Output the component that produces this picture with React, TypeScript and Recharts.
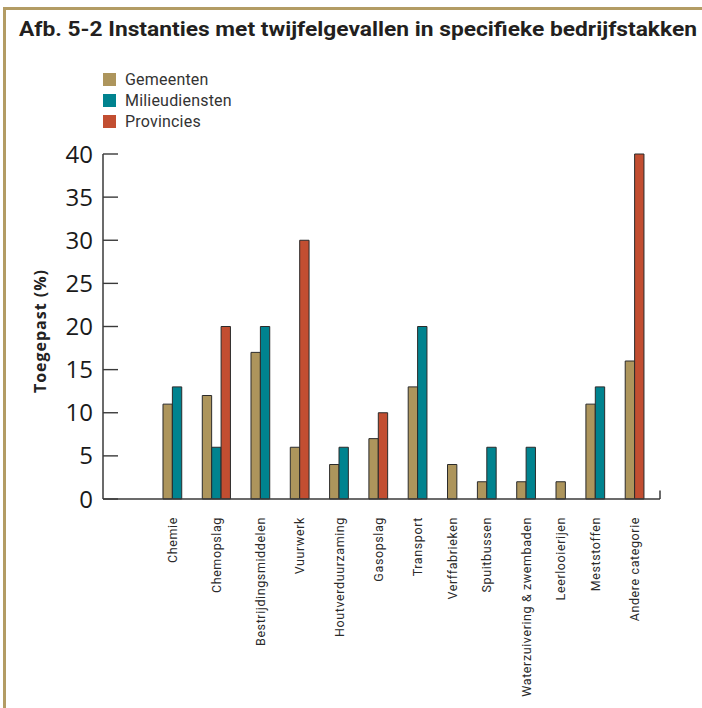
import React from 'react';
import { BarChart, Bar, XAxis, YAxis, ReferenceLine } from 'recharts';

// ---- data ----
const categories = [
  'Chemie',
  'Chemopslag',
  'Bestrijdingsmiddelen',
  'Vuurwerk',
  'Houtverduurzaming',
  'Gasopslag',
  'Transport',
  'Verffabrieken',
  'Spuitbussen',
  'Waterzuivering & zwembaden',
  'Leerlooierijen',
  'Meststoffen',
  'Andere categorie',
];
const gemeenten: (number | null)[] = [11, 12, 17, 6, 4, 7, 13, 4, 2, 2, 2, 11, 16];
const milieudiensten: (number | null)[] = [13, 6, 20, null, 6, null, 20, null, 6, 6, null, 13, null];
const provincies: (number | null)[] = [null, 20, null, 30, null, 10, null, null, null, null, null, null, 40];
const yTicks = [0, 5, 10, 15, 20, 25, 30, 35, 40];

const seriesNames = ['Gemeenten', 'Milieudiensten', 'Provincies'];
const seriesKeys = ['gemeenten', 'milieudiensten', 'provincies'];
const seriesColors = ['#ad955c', '#00838f', '#c24e31'];
const seriesValues = [gemeenten, milieudiensten, provincies];

// ---- layout constants ----
const W = 702;
const H = 708;
const MARGIN = { top: 154, right: 42, bottom: 9, left: 43 };
const YAXIS_W = 60;
const XAXIS_H = 200;
const AXIS_X = MARGIN.left + YAXIS_W;
const PLOT_W = W - MARGIN.left - MARGIN.right - YAXIS_W;
const PLOT_BOTTOM = H - MARGIN.bottom - XAXIS_H;
const GAP = 2.18; // gap between groups, in bar widths
const PAD_LEFT = 6.38;
const PAD_RIGHT = 1.7;

// build one row per drawn bar; missing values are skipped so bars sit side by side
type Row = { pos: number; category: string; [k: string]: number | string };
const rows: Row[] = [];
const groupCenters: number[] = [];
let cursor = 0;
categories.forEach((cat, i) => {
  const start = cursor;
  seriesValues.forEach((vals, s) => {
    const v = vals[i];
    if (v == null) return;
    rows.push({ pos: cursor + 0.5, category: cat, [seriesKeys[s]]: v });
    cursor += 1;
  });
  groupCenters.push((start + cursor) / 2);
  if (i < categories.length - 1) cursor += GAP;
});
const X_MIN = -PAD_LEFT;
const X_MAX = cursor + PAD_RIGHT;
const BAR_PX = PLOT_W / (X_MAX - X_MIN) - 0.05;

const AXIS_COLOR = '#3a3a3a';

const YTick = (props: any) => {
  const { y, payload } = props;
  return (
    <g>
      <line x1={AXIS_X} x2={AXIS_X + 15} y1={y} y2={y} stroke={AXIS_COLOR} strokeWidth={1.4} />
      <text
        x={AXIS_X - 10}
        y={y}
        dy="0.355em"
        textAnchor="end"
        fontSize={24}
        fontFamily="'Open Sans', sans-serif"
        fill="#1a1a1a"
      >
        {payload.value}
      </text>
    </g>
  );
};

const XTick = (props: any) => {
  const { x, index } = props;
  const ty = PLOT_BOTTOM + 18;
  return (
    <text
      x={x}
      y={ty}
      dy="0.36em"
      transform={`rotate(-90, ${x}, ${ty})`}
      textAnchor="end"
      fontSize={12.5}
      letterSpacing={0.6}
      fontFamily="Roboto, sans-serif"
      fill="#2a2a2a"
    >
      {categories[index]}
    </text>
  );
};

const YLabel = (props: any) => {
  const vb = props.viewBox || {};
  const cy = (vb.y ?? MARGIN.top) + (vb.height ?? 345) / 2 + 5;
  const x = 46;
  return (
    <text
      x={x}
      y={cy}
      transform={`rotate(-90, ${x}, ${cy})`}
      textAnchor="middle"
      fontSize={16}
      fontWeight={700}
      fontFamily="'Open Sans', sans-serif"
      fill="#222"
      textLength={123}
      lengthAdjust="spacing"
    >
      Toegepast (%)
    </text>
  );
};

export default function App() {
  return (
    <div
      style={{
        position: 'absolute',
        left: 0,
        top: 0,
        width: W,
        height: H,
        overflow: 'hidden',
        background: '#fff',
      }}
    >
      <div
        style={{
          position: 'absolute',
          left: 3,
          top: 7,
          width: W + 20,
          height: H + 20,
          borderTop: '3px solid #b39c64',
          borderLeft: '3px solid #b39c64',
        }}
      />
      <svg style={{ position: 'absolute', left: 0, top: 0 }} width={W} height={50}>
        <text
          x={19}
          y={36}
          fontSize={21}
          fontWeight={700}
          fontFamily="Roboto, sans-serif"
          fill="#231f20"
          textLength={678}
          lengthAdjust="spacingAndGlyphs"
        >
          Afb. 5-2 Instanties met twijfelgevallen in specifieke bedrijfstakken
        </text>
      </svg>
      <div style={{ position: 'absolute', left: 103, top: 73 }}>
        {seriesNames.map((name, i) => (
          <div key={name} style={{ display: 'flex', alignItems: 'center', height: 13, marginBottom: 8 }}>
            <div style={{ width: 13, height: 13, background: seriesColors[i] }} />
            <span
              style={{
                marginLeft: 9,
                fontFamily: 'Roboto, sans-serif',
                fontSize: 16,
                lineHeight: '13px',
                letterSpacing: 0.2,
                color: '#333',
              }}
            >
              {name}
            </span>
          </div>
        ))}
      </div>
      <div style={{ position: 'absolute', left: 0, top: 0 }}>
        <BarChart width={W} height={H} data={rows} margin={MARGIN}>
          <XAxis
            type="number"
            dataKey="pos"
            domain={[X_MIN, X_MAX]}
            ticks={groupCenters}
            interval={0}
            scale="linear"
            height={XAXIS_H}
            tickLine={false}
            axisLine={{ stroke: AXIS_COLOR, strokeWidth: 1.5 }}
            tick={<XTick />}
          />
          <YAxis
            type="number"
            domain={[0, 40]}
            ticks={yTicks}
            interval={0}
            width={YAXIS_W}
            tickLine={false}
            axisLine={{ stroke: AXIS_COLOR, strokeWidth: 1.5 }}
            tick={<YTick />}
            label={(p: any) => <YLabel {...p} />}
          />
          {seriesKeys.map((k, i) => (
            <Bar
              key={k}
              dataKey={k}
              name={seriesNames[i]}
              stackId="s"
              fill={seriesColors[i]}
              stroke="#2b2b2b"
              strokeWidth={1}
              barSize={BAR_PX}
              isAnimationActive={false}
            />
          ))}
          <ReferenceLine
            segment={[
              { x: X_MAX, y: 0 },
              { x: X_MAX, y: 1 },
            ]}
            stroke={AXIS_COLOR}
            strokeWidth={1.5}
          />
        </BarChart>
      </div>
    </div>
  );
}
